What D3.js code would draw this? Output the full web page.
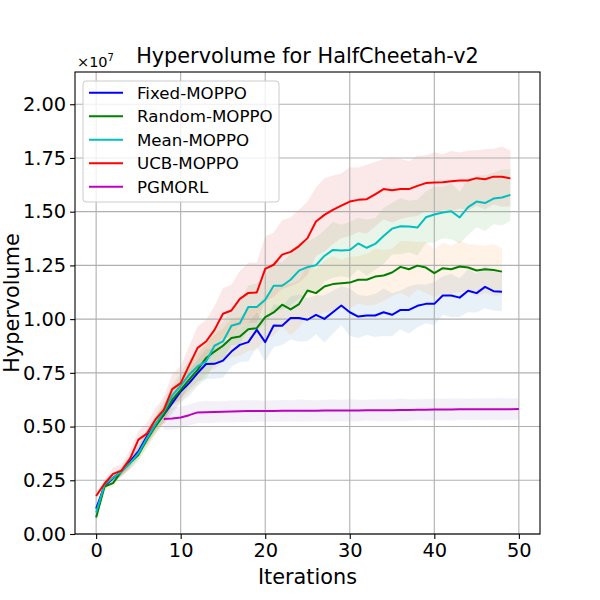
<!DOCTYPE html>
<html lang="en">
<head>
<meta charset="UTF-8">
<title>Hypervolume for HalfCheetah-v2</title>
<script src="https://d3js.org/d3.v7.min.js"></script>
<style>
  body { margin: 0; background: #fff; }
  svg text { font-family: "DejaVu Sans", sans-serif; fill: #000; }
</style>
</head>
<body>
<div id="chart"></div>
<script>
// hypervolume values, in units of 1e7
var fixedMoppo = [0.118, 0.225, 0.26, 0.291, 0.338, 0.384, 0.454, 0.508, 0.555, 0.609,
  0.663, 0.702, 0.749, 0.791, 0.792, 0.807, 0.849, 0.880, 0.893, 0.950,
  0.893, 0.970, 0.969, 1.005, 1.005, 0.997, 1.020, 1.001, 1.032, 1.063,
  1.032, 1.012, 1.017, 1.017, 1.032, 1.020, 1.043, 1.043, 1.062, 1.071,
  1.071, 1.110, 1.110, 1.100, 1.132, 1.121, 1.150, 1.130, 1.127];
var randomMoppo = [0.077, 0.221, 0.237, 0.291, 0.330, 0.369, 0.439, 0.500, 0.555, 0.625,
  0.671, 0.718, 0.764, 0.819, 0.849, 0.876, 0.912, 0.919, 0.953, 0.958,
  1.009, 1.031, 1.067, 1.045, 1.070, 1.133, 1.121, 1.152, 1.163, 1.167,
  1.170, 1.183, 1.183, 1.198, 1.203, 1.217, 1.243, 1.232, 1.249, 1.240,
  1.214, 1.237, 1.232, 1.245, 1.240, 1.226, 1.232, 1.229, 1.221];
var meanMoppo = [0.10, 0.23, 0.262, 0.29, 0.33, 0.375, 0.445, 0.51, 0.57, 0.645,
  0.69, 0.741, 0.78, 0.803, 0.876, 0.896, 0.969, 0.981, 1.056, 1.056,
  1.09, 1.155, 1.155, 1.183, 1.226, 1.242, 1.251, 1.294, 1.322, 1.319,
  1.322, 1.352, 1.332, 1.350, 1.387, 1.421, 1.432, 1.431, 1.426, 1.474,
  1.487, 1.496, 1.502, 1.473, 1.521, 1.547, 1.540, 1.561, 1.566, 1.578];
var ucbMoppo = [0.177, 0.235, 0.28, 0.295, 0.35, 0.439, 0.467, 0.532, 0.578, 0.674,
  0.702, 0.785, 0.866, 0.896, 0.95, 1.025, 1.04, 1.094, 1.122, 1.124,
  1.234, 1.253, 1.30, 1.313, 1.34, 1.377, 1.454, 1.485, 1.508, 1.528,
  1.547, 1.555, 1.558, 1.581, 1.605, 1.60, 1.606, 1.605, 1.62, 1.633,
  1.636, 1.637, 1.642, 1.645, 1.645, 1.656, 1.651, 1.663, 1.663, 1.655];
// PGMORL starts at iteration 8
var pgmorl = [0.535, 0.537, 0.542, 0.553, 0.566, 0.567, 0.568, 0.569, 0.570, 0.571,
  0.572, 0.572, 0.572, 0.572, 0.573, 0.573, 0.574, 0.574, 0.574, 0.575,
  0.575, 0.575, 0.575, 0.575, 0.576, 0.576, 0.576, 0.576, 0.577, 0.577,
  0.578, 0.578, 0.579, 0.579, 0.579, 0.580, 0.580, 0.580, 0.580, 0.581,
  0.581, 0.581, 0.582];

// half-widths of the shaded bands
var fixedStd = [0.01, 0.02, 0.02, 0.02, 0.03, 0.03, 0.03, 0.04, 0.04, 0.05,
  0.05, 0.06, 0.06, 0.07, 0.07, 0.08, 0.07, 0.08, 0.09, 0.08,
  0.09, 0.10, 0.09, 0.10, 0.11, 0.10, 0.09, 0.11, 0.10, 0.09,
  0.11, 0.10, 0.09, 0.10, 0.11, 0.10, 0.09, 0.11, 0.10, 0.09,
  0.10, 0.09, 0.10, 0.09, 0.10, 0.09, 0.10, 0.09, 0.09];
var randomStd = [0.01, 0.02, 0.02, 0.02, 0.03, 0.03, 0.04, 0.04, 0.05, 0.05,
  0.06, 0.06, 0.07, 0.07, 0.08, 0.08, 0.09, 0.09, 0.10, 0.10,
  0.10, 0.11, 0.10, 0.12, 0.11, 0.12, 0.11, 0.12, 0.13, 0.11,
  0.12, 0.11, 0.12, 0.13, 0.12, 0.11, 0.12, 0.13, 0.11, 0.12,
  0.11, 0.12, 0.11, 0.12, 0.11, 0.12, 0.11, 0.12, 0.11];
var meanStd = [0.01, 0.02, 0.02, 0.02, 0.03, 0.03, 0.04, 0.04, 0.05, 0.05,
  0.06, 0.07, 0.07, 0.08, 0.08, 0.09, 0.09, 0.10, 0.10, 0.11,
  0.11, 0.12, 0.11, 0.12, 0.13, 0.12, 0.13, 0.12, 0.13, 0.12,
  0.13, 0.12, 0.13, 0.12, 0.13, 0.12, 0.13, 0.12, 0.13, 0.12,
  0.13, 0.12, 0.13, 0.12, 0.13, 0.12, 0.13, 0.12, 0.13, 0.12];
var ucbStd = [0.02, 0.02, 0.03, 0.03, 0.04, 0.04, 0.05, 0.05, 0.06, 0.07,
  0.08, 0.09, 0.10, 0.10, 0.11, 0.12, 0.12, 0.13, 0.14, 0.14,
  0.15, 0.15, 0.16, 0.16, 0.17, 0.17, 0.16, 0.17, 0.16, 0.15,
  0.16, 0.15, 0.16, 0.15, 0.14, 0.15, 0.14, 0.13, 0.14, 0.13,
  0.14, 0.13, 0.14, 0.13, 0.14, 0.13, 0.14, 0.13, 0.14, 0.13];
var pgStd = [0.05, 0.052, 0.05, 0.048, 0.05, 0.052, 0.05, 0.049, 0.051, 0.05,
  0.052, 0.05, 0.048, 0.05, 0.051, 0.05, 0.052, 0.05, 0.049, 0.05,
  0.051, 0.05, 0.052, 0.05, 0.049, 0.05, 0.051, 0.05, 0.052, 0.05,
  0.049, 0.05, 0.051, 0.05, 0.052, 0.05, 0.049, 0.05, 0.051, 0.05,
  0.052, 0.05, 0.05];

var seriesNames = ["Fixed-MOPPO", "Random-MOPPO", "Mean-MOPPO", "UCB-MOPPO", "PGMORL"];
var lineColors = ["#0000ff", "#008000", "#00bfbf", "#ff0000", "#bf00bf"];
var bandColors = ["#1f77b4", "#ff7f0e", "#2ca02c", "#d62728", "#9467bd"];
var xTicks = [0, 10, 20, 30, 40, 50];
var yTicks = [0, 0.25, 0.5, 0.75, 1.0, 1.25, 1.5, 1.75, 2.0];

var series = [
  { vals: fixedMoppo, std: fixedStd, start: 0 },
  { vals: randomMoppo, std: randomStd, start: 0 },
  { vals: meanMoppo, std: meanStd, start: 0 },
  { vals: ucbMoppo, std: ucbStd, start: 0 },
  { vals: pgmorl, std: pgStd, start: 8 }
];

var W = 600, H = 600;
var margin = { top: 72, right: 60, bottom: 66, left: 75 };
var width = W - margin.left - margin.right,
    height = H - margin.top - margin.bottom;

var svg = d3.select("#chart").append("svg")
  .attr("width", W).attr("height", H);

var g = svg.append("g")
  .attr("transform", "translate(" + margin.left + "," + margin.top + ")");

var x = d3.scaleLinear().domain([-2.5, 52.5]).range([0, width]);
var y = d3.scaleLinear().domain([0, 2.15]).range([height, 0]);

// shaded bands
series.forEach(function (s, k) {
  var pts = s.vals.map(function (v, i) { return { i: i + s.start, v: v, sd: s.std[i] }; });
  g.append("path")
    .datum(pts)
    .attr("fill", bandColors[k])
    .attr("fill-opacity", 0.1)
    .attr("stroke", "none")
    .attr("d", d3.area()
      .x(function (d) { return x(d.i); })
      .y0(function (d) { return y(d.v - d.sd); })
      .y1(function (d) { return y(d.v + d.sd); }));
});

// grid
g.selectAll(".gx").data(xTicks).enter().append("line")
  .attr("x1", function (d) { return x(d); }).attr("x2", function (d) { return x(d); })
  .attr("y1", 0).attr("y2", height)
  .attr("stroke", "#b0b0b0").attr("stroke-width", 1.1);
g.selectAll(".gy").data(yTicks).enter().append("line")
  .attr("x1", 0).attr("x2", width)
  .attr("y1", function (d) { return y(d); }).attr("y2", function (d) { return y(d); })
  .attr("stroke", "#b0b0b0").attr("stroke-width", 1.1);

// lines
series.forEach(function (s, k) {
  g.append("path")
    .datum(s.vals)
    .attr("fill", "none")
    .attr("stroke", lineColors[k])
    .attr("stroke-width", 2)
    .attr("stroke-linejoin", "round")
    .attr("d", d3.line()
      .x(function (d, i) { return x(i + s.start); })
      .y(function (d) { return y(d); }));
});

// axes
var xAxis = g.append("g")
  .attr("transform", "translate(0," + height + ")")
  .call(d3.axisBottom(x).tickValues(xTicks).tickSize(4.9).tickPadding(4));
var yAxis = g.append("g")
  .call(d3.axisLeft(y).tickValues(yTicks).tickFormat(d3.format(".2f")).tickSize(4.9).tickPadding(4));
[xAxis, yAxis].forEach(function (a) {
  a.select(".domain").remove();
  a.selectAll("line").attr("stroke", "#000").attr("stroke-width", 1.1);
  a.selectAll("text").style("font-size", "19.4px").style("font-family", "DejaVu Sans");
});

// frame
g.append("rect")
  .attr("width", width).attr("height", height)
  .attr("fill", "none").attr("stroke", "#000").attr("stroke-width", 1.1);

// offset text x10^7
var off = svg.append("text").attr("x", 77).attr("y", 67).style("font-size", "14.5px");
off.append("tspan").text("\u00d710");
off.append("tspan").attr("dy", -6).style("font-size", "10px").text("7");

// title and labels
svg.append("text")
  .attr("x", margin.left + width / 2).attr("y", 63)
  .attr("text-anchor", "middle").style("font-size", "20.8px")
  .text("Hypervolume for HalfCheetah-v2");
svg.append("text")
  .attr("x", margin.left + width / 2).attr("y", 584)
  .attr("text-anchor", "middle").style("font-size", "20.8px")
  .text("Iterations");
svg.append("text")
  .attr("transform", "translate(19," + (margin.top + height / 2) + ") rotate(-90)")
  .attr("text-anchor", "middle").style("font-size", "20.8px")
  .text("Hypervolume");

// legend
var leg = svg.append("g").attr("transform", "translate(83,81)");
leg.append("rect")
  .attr("width", 196).attr("height", 121).attr("rx", 3)
  .attr("fill", "#fff").attr("fill-opacity", 0.8)
  .attr("stroke", "#cccccc").attr("stroke-width", 1);
seriesNames.forEach(function (name, k) {
  var cy = 11.7 + k * 23.5;
  leg.append("line")
    .attr("x1", 6).attr("x2", 40).attr("y1", cy).attr("y2", cy)
    .attr("stroke", lineColors[k]).attr("stroke-width", 2);
  leg.append("text")
    .attr("x", 54).attr("y", cy + 6)
    .style("font-size", "16.67px")
    .text(name);
});
</script>
</body>
</html>
